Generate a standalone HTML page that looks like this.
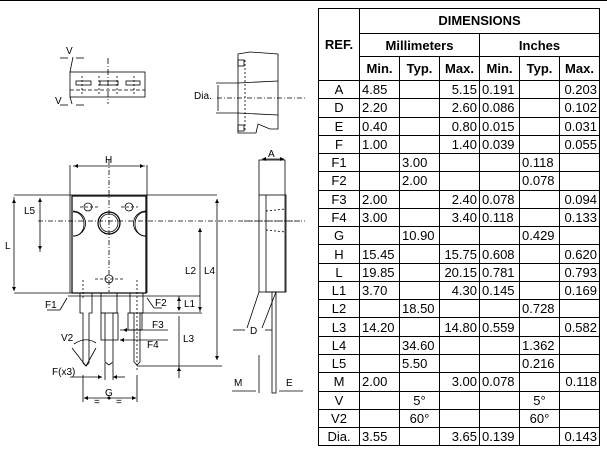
<!DOCTYPE html>
<html><head><meta charset="utf-8"><style>
body{margin:0;width:607px;height:450px;background:#fff;overflow:hidden;position:relative;font-family:"Liberation Sans",Arial,sans-serif}
#top{position:absolute;left:0;top:0;width:607px;height:1px;background:#000}
svg{position:absolute;left:0;top:0}
table{position:absolute;left:318px;top:8px;border-collapse:collapse;table-layout:fixed;font-size:13px;color:#000}
td{border:1.3px solid #000;padding:0 2px;height:17.27px;line-height:15px;white-space:nowrap;overflow:hidden}
.h{font-weight:bold;text-align:center}
.c{text-align:center}.r{text-align:right}.l{text-align:left}
</style></head><body>
<div id="top"></div>
<svg width="310" height="450" viewBox="0 0 310 450" font-family="Liberation Sans,Arial,sans-serif" font-size="10" stroke="#000" fill="none" stroke-width="0.8">
<rect x="70" y="72" width="75" height="25"/>
<line x1="70" y1="72" x2="73" y2="57"/><line x1="70" y1="97" x2="72" y2="104"/>
<line x1="70" y1="90" x2="145" y2="90" stroke-dasharray="4,2"/>
<line x1="108" y1="58" x2="108" y2="104" stroke-dasharray="6,2,1,2"/>
<rect x="76" y="81" width="15" height="4"/><rect x="100" y="81" width="18" height="4"/><rect x="126" y="81" width="14" height="4"/>
<line x1="82" y1="76" x2="82" y2="95" stroke-dasharray="2,2"/><line x1="99" y1="76" x2="99" y2="95" stroke-dasharray="2,2"/><line x1="117" y1="76" x2="117" y2="95" stroke-dasharray="2,2"/><line x1="134" y1="76" x2="134" y2="95" stroke-dasharray="2,2"/>
<line x1="60" y1="58" x2="68" y2="58"/><line x1="76" y1="58" x2="84" y2="58"/>
<line x1="60" y1="105" x2="68" y2="105"/><line x1="76" y1="105" x2="84" y2="105"/>
<g fill="#000" stroke="none" font-size="10"><text x="66" y="54">V</text><text x="55" y="104">V</text></g>
<path d="M238 54 L250 52 L278 54 L278 129 L270 129 L258 124 L256 133 L238 133 Z"/>
<rect x="238" y="60" width="6" height="6"/><rect x="238" y="125" width="6" height="6"/>
<line x1="238" y1="83" x2="278" y2="81"/><line x1="238" y1="113" x2="278" y2="115"/>
<line x1="216" y1="83" x2="238" y2="83"/><line x1="216" y1="113" x2="238" y2="113"/>
<line x1="217" y1="98" x2="305" y2="98" stroke-dasharray="5,2,1,2"/>
<line x1="245" y1="60" x2="245" y2="130" stroke-dasharray="2,2"/>
<line x1="218" y1="85" x2="218" y2="111"/>
<text x="194" y="99" fill="#000" stroke="none">Dia.</text>
<line x1="70" y1="165" x2="70" y2="293"/><line x1="147" y1="165" x2="147" y2="293"/>
<rect x="72" y="196" width="74" height="97" stroke-width="1.2"/>
<line x1="14" y1="195" x2="217" y2="195"/><line x1="14" y1="293" x2="72" y2="293"/>
<line x1="109" y1="160" x2="109" y2="292" stroke-dasharray="5,2,1,2"/>
<line x1="38" y1="221" x2="300" y2="221" stroke-dasharray="5,2,1,2"/>
<circle cx="109" cy="223" r="11" stroke-width="1.2"/><circle cx="109" cy="223" r="9"/>
<circle cx="88" cy="207" r="4"/><circle cx="129" cy="207" r="4"/>
<line x1="80" y1="207" x2="98" y2="207" stroke-dasharray="3,2"/><line x1="121" y1="207" x2="138" y2="207" stroke-dasharray="3,2"/>
<path d="M73 211 A12 12 0 0 1 73 236"/><path d="M73 212 A10 12 0 0 1 84 224 A10 12 0 0 1 73 236"/>
<path d="M146 211 A12 12 0 0 0 146 236"/><path d="M146 212 A10 12 0 0 0 135 224 A10 12 0 0 0 146 236"/>
<circle cx="109" cy="279" r="4"/><line x1="95" y1="279" x2="123" y2="279" stroke-dasharray="3,2"/>
<path d="M80 293 L80 313 L83 313 L83 363 L86 366 L89 363 L89 313 L92 313 L92 293"/>
<path d="M101 293 L101 313 L105 313 L105 362 L109 365 L113 362 L113 313 L117 313 L117 293"/>
<path d="M130 293 L130 313 L134 313 L134 362 L137 365 L140 362 L140 313 L143 313 L143 293"/>
<rect x="128" y="313" width="14" height="17"/><rect x="101" y="313" width="17" height="27"/>
<line x1="83" y1="280" x2="83" y2="300" stroke-dasharray="2,2"/><line x1="137" y1="280" x2="137" y2="372" stroke-dasharray="2,2"/>
<line x1="68" y1="296" x2="200" y2="296"/><line x1="140" y1="313" x2="202" y2="313"/>
<line x1="137" y1="366" x2="222" y2="366"/>
<line x1="200" y1="228" x2="200" y2="312"/><line x1="217" y1="199" x2="217" y2="360"/>
<line x1="179" y1="316" x2="179" y2="378"/><line x1="179" y1="296" x2="179" y2="310"/>
<line x1="14" y1="197" x2="14" y2="291"/>
<line x1="40" y1="198" x2="40" y2="252"/>
<line x1="73" y1="166" x2="145" y2="166"/>
<line x1="120" y1="330" x2="168" y2="330"/><line x1="120" y1="340" x2="168" y2="340"/>
<line x1="47" y1="310" x2="60" y2="310"/><line x1="60" y1="310" x2="67" y2="298"/>
<line x1="147" y1="298" x2="154" y2="308"/><line x1="154" y1="308" x2="162" y2="308"/>
<path d="M72 348 L86 366 L96 348" /><path d="M74 344 Q86 336 96 343"/>
<line x1="70" y1="377" x2="102" y2="377"/><line x1="113" y1="377" x2="125" y2="377"/>
<line x1="105" y1="363" x2="105" y2="380"/><line x1="113" y1="363" x2="113" y2="380"/>
<line x1="83" y1="375" x2="83" y2="402"/><line x1="137" y1="375" x2="137" y2="402"/>
<line x1="84" y1="398" x2="136" y2="398"/>
<g fill="#000" stroke="none">
<path d="M74 166 l4 -2 v4z"/><path d="M144 166 l-4 -2 v4z"/>
<path d="M14 199 l-2 4 h4z"/><path d="M14 291 l-2 -4 h4z"/>
<path d="M40 198 l-2 4 h4z"/><path d="M40 250 l-2 -4 h4z"/>
<path d="M200 228 l-2 4 h4z"/><path d="M200 311 l-2 -4 h4z"/>
<path d="M217 199 l-2 4 h4z"/><path d="M217 360 l-2 -4 h4z"/>
<path d="M179 297 l-2 4 h4z"/><path d="M179 311 l-2 -4 h4z"/>
<path d="M179 367 l-2 4 h4z"/>
<path d="M84 398 l4 -2 v4z"/><path d="M136 398 l-4 -2 v4z"/>
<path d="M102 377 l-4 -2 v4z"/><path d="M113 377 l4 -2 v4z"/>
<path d="M123 330 l4 -2 v4z"/><path d="M120 340 l4 -2 v4z"/>
<circle cx="109" cy="398" r="1.5"/>
</g>
<g fill="#000" stroke="none" font-size="10">
<text x="105" y="163">H</text><text x="5" y="249">L</text><text x="24" y="214">L5</text>
<text x="185" y="274">L2</text><text x="204" y="274">L4</text><text x="184" y="307">L1</text>
<text x="183" y="342">L3</text><text x="152" y="328">F3</text><text x="147" y="348">F4</text>
<text x="45" y="308">F1</text><text x="155" y="306">F2</text><text x="61" y="341">V2</text>
<text x="52" y="375">F(x3)</text><text x="105" y="396">G</text>
<text x="94" y="405">=</text><text x="116" y="405">=</text>
</g>
<rect x="259" y="160" width="26" height="132"/>
<rect x="266" y="195" width="20" height="97"/>
<line x1="259" y1="195" x2="266" y2="195"/>
<line x1="262" y1="159" x2="284" y2="159"/>
<path d="M262 159 l4 -2 v4z M284 159 l-4 -2 v4z" fill="#000" stroke="none"/>
<text x="268" y="157" fill="#000" stroke="none">A</text>
<line x1="266" y1="211" x2="286" y2="209" stroke-dasharray="2,2"/><line x1="266" y1="230" x2="286" y2="232" stroke-dasharray="2,2"/>
<line x1="244" y1="221" x2="305" y2="221" stroke-dasharray="5,2,1,2"/>
<rect x="272" y="292" width="4" height="101"/>
<line x1="259" y1="292" x2="247" y2="328"/><line x1="276" y1="292" x2="262" y2="328"/>
<line x1="259" y1="355" x2="259" y2="393"/>
<line x1="233" y1="330" x2="245" y2="330"/><line x1="265" y1="330" x2="272" y2="330"/>
<line x1="232" y1="391" x2="256" y2="391"/><line x1="279" y1="391" x2="303" y2="391"/>
<text x="250" y="334" fill="#000" stroke="none">D</text>
<text x="234" y="386" fill="#000" stroke="none">M</text><text x="286" y="386" fill="#000" stroke="none">E</text>
</svg>
<table>
<colgroup><col style="width:41px"><col style="width:40px"><col style="width:40px"><col style="width:40px"><col style="width:40px"><col style="width:40px"><col style="width:40px"></colgroup>
<tr><td class="h" rowspan="3" style="height:71px">REF.</td><td class="h" colspan="6" style="height:23px">DIMENSIONS</td></tr>
<tr><td class="h" colspan="3" style="height:22px">Millimeters</td><td class="h" colspan="3">Inches</td></tr>
<tr><td class="h" style="height:22px">Min.</td><td class="h">Typ.</td><td class="h">Max.</td><td class="h">Min.</td><td class="h">Typ.</td><td class="h">Max.</td></tr>
<tr><td class="c">A</td><td>4.85</td><td></td><td class="r">5.15</td><td>0.191</td><td></td><td class="r">0.203</td></tr>
<tr><td class="c">D</td><td>2.20</td><td></td><td class="r">2.60</td><td>0.086</td><td></td><td class="r">0.102</td></tr>
<tr><td class="c">E</td><td>0.40</td><td></td><td class="r">0.80</td><td>0.015</td><td></td><td class="r">0.031</td></tr>
<tr><td class="c">F</td><td>1.00</td><td></td><td class="r">1.40</td><td>0.039</td><td></td><td class="r">0.055</td></tr>
<tr><td class="c">F1</td><td></td><td>3.00</td><td></td><td></td><td>0.118</td><td></td></tr>
<tr><td class="c">F2</td><td></td><td>2.00</td><td></td><td></td><td>0.078</td><td></td></tr>
<tr><td class="c">F3</td><td>2.00</td><td></td><td class="r">2.40</td><td>0.078</td><td></td><td class="r">0.094</td></tr>
<tr><td class="c">F4</td><td>3.00</td><td></td><td class="r">3.40</td><td>0.118</td><td></td><td class="r">0.133</td></tr>
<tr><td class="c">G</td><td></td><td>10.90</td><td></td><td></td><td>0.429</td><td></td></tr>
<tr><td class="c">H</td><td>15.45</td><td></td><td class="r">15.75</td><td>0.608</td><td></td><td class="r">0.620</td></tr>
<tr><td class="c">L</td><td>19.85</td><td></td><td class="r">20.15</td><td>0.781</td><td></td><td class="r">0.793</td></tr>
<tr><td class="c">L1</td><td>3.70</td><td></td><td class="r">4.30</td><td>0.145</td><td></td><td class="r">0.169</td></tr>
<tr><td class="c">L2</td><td></td><td>18.50</td><td></td><td></td><td>0.728</td><td></td></tr>
<tr><td class="c">L3</td><td>14.20</td><td></td><td class="r">14.80</td><td>0.559</td><td></td><td class="r">0.582</td></tr>
<tr><td class="c">L4</td><td></td><td>34.60</td><td></td><td></td><td>1.362</td><td></td></tr>
<tr><td class="c">L5</td><td></td><td>5.50</td><td></td><td></td><td>0.216</td><td></td></tr>
<tr><td class="c">M</td><td>2.00</td><td></td><td class="r">3.00</td><td>0.078</td><td></td><td class="r">0.118</td></tr>
<tr><td class="c">V</td><td></td><td class="c">5°</td><td></td><td></td><td class="c">5°</td><td></td></tr>
<tr><td class="c">V2</td><td></td><td class="c">60°</td><td></td><td></td><td class="c">60°</td><td></td></tr>
<tr><td class="c">Dia.</td><td>3.55</td><td></td><td class="r">3.65</td><td>0.139</td><td></td><td class="r">0.143</td></tr>
</table>
</body></html>
